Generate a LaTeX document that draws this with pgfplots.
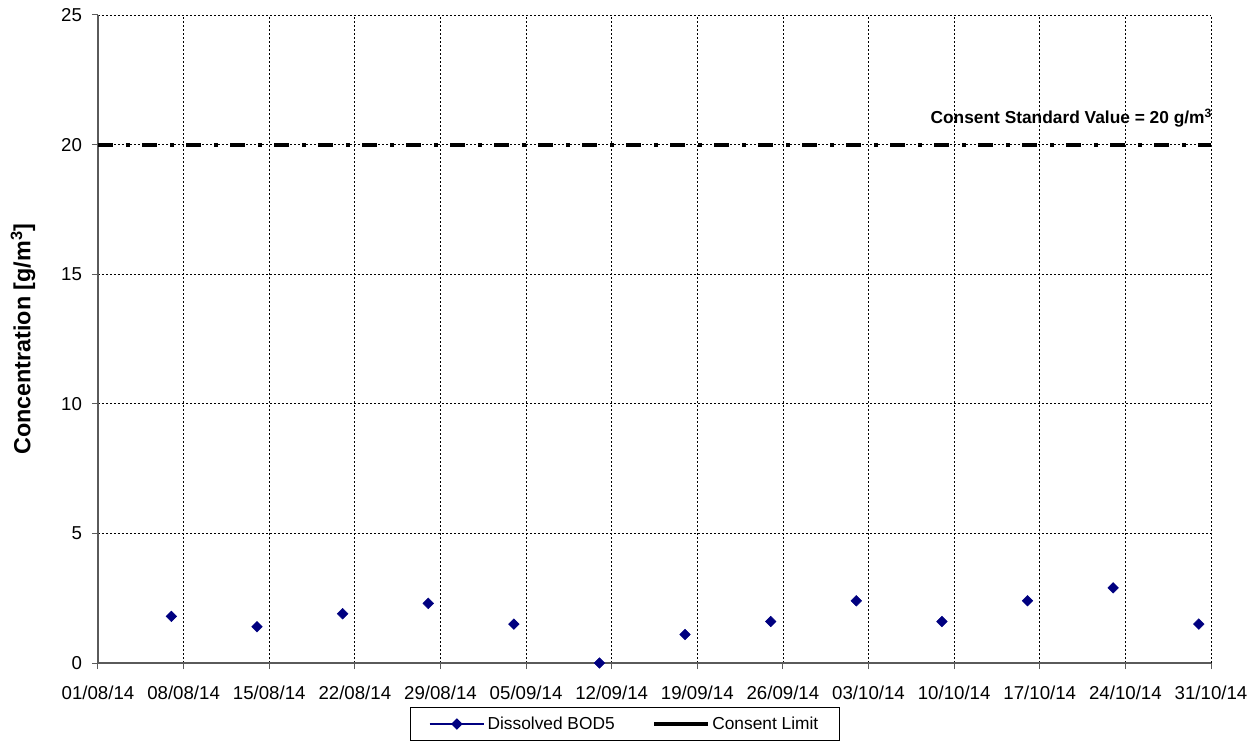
\documentclass[border=0pt]{standalone}
\usepackage{pgfplots}
\pgfplotsset{compat=1.18}
\usepackage{fontspec}
\setmainfont{Liberation Sans}
\definecolor{bodnavy}{RGB}{0,0,128}
\definecolor{axisgray}{RGB}{90,90,90}

\pgfplotsset{
  bodleg/.style={legend image code/.code={\draw[##1, mark repeat=2, mark phase=2] plot coordinates {(0pt,0pt) (20.5pt,0pt) (41pt,0pt)};}},
  limleg/.style={legend image code/.code={\draw[##1] (0pt,0pt) -- (26.25pt,0pt); \path (26.25pt,0pt) -- (40pt,0pt);}},
}

% days counted from 01/08/14
\pgfplotstableread{
day  bod
6    1.8
13   1.4
20   1.9
27   2.3
34   1.5
41   0.0
48   1.1
55   1.6
62   2.4
69   1.6
76   2.4
83   2.9
90   1.5
}\bodtable

\begin{document}
\begin{tikzpicture}
\begin{axis}[
  name=ax,
  scale only axis,
  width=834.75pt, height=486pt,
  xmin=0, xmax=91, ymin=0, ymax=25,
  axis lines=left,
  axis line style={-, axisgray, line width=0.9pt},
  xtick={0,7,...,91},
  xticklabels={01/08/14,08/08/14,15/08/14,22/08/14,29/08/14,05/09/14,12/09/14,19/09/14,26/09/14,03/10/14,10/10/14,17/10/14,24/10/14,31/10/14},
  ytick={0,5,...,25},
  tick align=outside,
  major tick length=4.5pt,
  tick style={axisgray, line width=0.75pt},
  tick label style={font=\fontsize{14}{16}\selectfont},
  /pgf/number format/assume math mode=true,
  xticklabel style={yshift=-9pt},
  yticklabel style={xshift=-4pt},
  grid=major,
  major grid style={black, line width=0.6pt, dash pattern=on 1.5pt off 1.5pt},
  ylabel={Concentration [g/m\textsuperscript{3}]},
  ylabel style={font=\fontsize{17.5}{20}\selectfont\bfseries, at={(axis description cs:-0.0674,0.5)}, anchor=center},
  legend columns=2,
  legend style={at={(0.4735,-0.0679)}, anchor=north, draw=black, line width=0.6pt,
    font=\fontsize{13}{15}\selectfont, inner xsep=14pt, inner ysep=5pt,
    /tikz/every even column/.append style={column sep=26pt}},
]
\addlegendimage{bodnavy, line width=0.9pt, mark=square*, mark size=2.6pt, mark options={rotate=45, solid}, bodleg}
\addlegendimage{black, line width=3.2pt, limleg}
\legend{Dissolved BOD5, Consent Limit}

\addplot[forget plot, only marks, mark=square*, mark size=2.8pt, color=bodnavy, mark options={rotate=45}]
  table[x=day, y=bod] {\bodtable};
\addplot[forget plot, black, line width=3pt, dash pattern=on 11.25pt off 9.75pt on 3pt off 9pt]
  coordinates {(0,20) (91,20)};

\node[anchor=base east, font=\fontsize{13}{15}\selectfont\bfseries, inner sep=0pt]
  at ([yshift=15.75pt, xshift=1pt]axis cs:91,20) {Consent Standard Value = 20 g/m\textsuperscript{3}};
\end{axis}
\path[use as bounding box] ([xshift=-73.5pt,yshift=-61.5pt]ax.south west) rectangle ([xshift=34.5pt,yshift=11.25pt]ax.north east);
\end{tikzpicture}
\end{document}
